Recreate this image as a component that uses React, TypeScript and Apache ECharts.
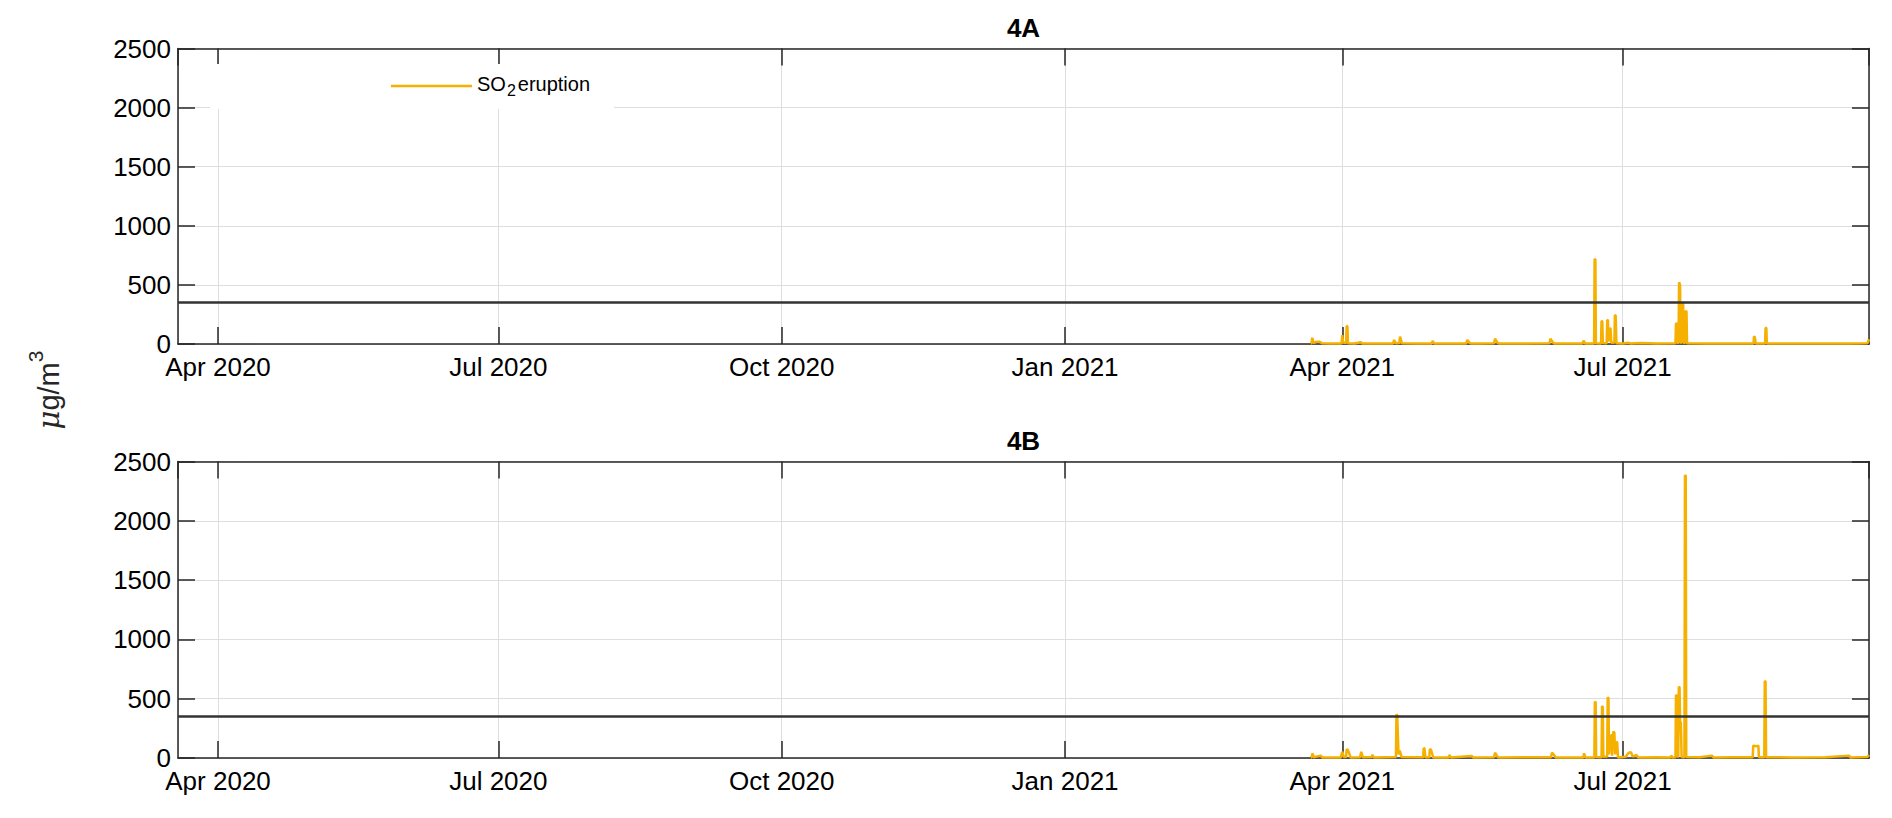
import React, { useEffect, useRef } from 'react';
import * as echarts from 'echarts';

// ---------- data ----------
const X_MIN = '2020-03-19T00:00:00';
const X_MAX = '2021-09-19T00:00:00';
const Y_MIN = 0;
const Y_MAX = 2500;
const Y_STEP = 500;
const LIMIT_VALUE = 350; // threshold line, µg/m³
const MONTHS = ['Jan', 'Feb', 'Mar', 'Apr', 'May', 'Jun', 'Jul', 'Aug', 'Sep', 'Oct', 'Nov', 'Dec'];
const PANEL_TITLES = ['4A', '4B'];
const SERIES_NAME = 'SO2 eruption';

const series4A: [string, number][] = [
  ['2021-03-21 18:00', 4],
  ['2021-03-22 00:00', 6],
  ['2021-03-22 06:00', 53],
  ['2021-03-22 10:00', 50],
  ['2021-03-22 16:00', 8],
  ['2021-03-23 12:00', 18],
  ['2021-03-24 12:00', 20],
  ['2021-03-25 12:00', 6],
  ['2021-03-28 00:00', 4],
  ['2021-03-31 18:00', 5],
  ['2021-04-01 00:00', 75],
  ['2021-04-01 06:00', 12],
  ['2021-04-02 06:00', 8],
  ['2021-04-02 10:00', 152],
  ['2021-04-02 16:00', 150],
  ['2021-04-02 20:00', 6],
  ['2021-04-05 00:00', 4],
  ['2021-04-07 00:00', 15],
  ['2021-04-07 12:00', 4],
  ['2021-04-12 00:00', 5],
  ['2021-04-17 12:00', 5],
  ['2021-04-17 20:00', 34],
  ['2021-04-18 08:00', 6],
  ['2021-04-19 12:00', 8],
  ['2021-04-19 18:00', 62],
  ['2021-04-19 22:00', 60],
  ['2021-04-20 08:00', 7],
  ['2021-04-25 00:00', 5],
  ['2021-04-30 00:00', 4],
  ['2021-04-30 08:00', 25],
  ['2021-04-30 20:00', 5],
  ['2021-05-06 00:00', 5],
  ['2021-05-11 06:00', 5],
  ['2021-05-11 14:00', 34],
  ['2021-05-12 06:00', 12],
  ['2021-05-12 18:00', 4],
  ['2021-05-16 00:00', 5],
  ['2021-05-20 06:00', 6],
  ['2021-05-20 14:00', 45],
  ['2021-05-21 06:00', 15],
  ['2021-05-21 18:00', 5],
  ['2021-05-29 00:00', 4],
  ['2021-06-07 06:00', 6],
  ['2021-06-07 14:00', 45],
  ['2021-06-08 06:00', 18],
  ['2021-06-08 18:00', 5],
  ['2021-06-14 00:00', 4],
  ['2021-06-18 00:00', 5],
  ['2021-06-18 08:00', 28],
  ['2021-06-18 20:00', 5],
  ['2021-06-21 18:00', 4],
  ['2021-06-21 22:00', 720],
  ['2021-06-22 04:00', 715],
  ['2021-06-22 08:00', 6],
  ['2021-06-24 00:00', 5],
  ['2021-06-24 04:00', 195],
  ['2021-06-24 10:00', 192],
  ['2021-06-24 14:00', 8],
  ['2021-06-25 20:00', 6],
  ['2021-06-26 00:00', 203],
  ['2021-06-26 06:00', 200],
  ['2021-06-26 10:00', 20],
  ['2021-06-26 20:00', 133],
  ['2021-06-27 02:00', 130],
  ['2021-06-27 08:00', 10],
  ['2021-06-28 08:00', 12],
  ['2021-06-28 12:00', 246],
  ['2021-06-28 18:00', 240],
  ['2021-06-29 00:00', 6],
  ['2021-07-01 00:00', 4],
  ['2021-07-03 00:00', 10],
  ['2021-07-03 12:00', 5],
  ['2021-07-07 00:00', 8],
  ['2021-07-12 00:00', 5],
  ['2021-07-18 04:00', 6],
  ['2021-07-18 08:00', 175],
  ['2021-07-18 16:00', 172],
  ['2021-07-18 20:00', 10],
  ['2021-07-19 04:00', 8],
  ['2021-07-19 08:00', 523],
  ['2021-07-19 16:00', 500],
  ['2021-07-19 20:00', 12],
  ['2021-07-20 04:00', 10],
  ['2021-07-20 08:00', 345],
  ['2021-07-20 16:00', 340],
  ['2021-07-20 20:00', 10],
  ['2021-07-21 06:00', 8],
  ['2021-07-21 10:00', 280],
  ['2021-07-21 18:00', 275],
  ['2021-07-21 22:00', 6],
  ['2021-07-28 00:00', 4],
  ['2021-08-05 00:00', 5],
  ['2021-08-12 12:00', 5],
  ['2021-08-12 16:00', 62],
  ['2021-08-12 22:00', 60],
  ['2021-08-13 06:00', 5],
  ['2021-08-16 06:00', 5],
  ['2021-08-16 10:00', 138],
  ['2021-08-16 16:00', 135],
  ['2021-08-16 20:00', 5],
  ['2021-08-25 00:00', 4],
  ['2021-09-05 00:00', 5],
  ['2021-09-15 00:00', 4],
  ['2021-09-18 12:00', 6],
  ['2021-09-19 00:00', 40],
];

const series4B: [string, number][] = [
  ['2021-03-21 18:00', 4],
  ['2021-03-22 00:00', 6],
  ['2021-03-22 08:00', 40],
  ['2021-03-22 16:00', 6],
  ['2021-03-25 00:00', 20],
  ['2021-03-25 12:00', 5],
  ['2021-03-31 12:00', 5],
  ['2021-04-01 00:00', 53],
  ['2021-04-01 12:00', 8],
  ['2021-04-02 06:00', 10],
  ['2021-04-02 10:00', 73],
  ['2021-04-02 18:00', 70],
  ['2021-04-03 06:00', 40],
  ['2021-04-03 16:00', 5],
  ['2021-04-06 18:00', 6],
  ['2021-04-07 04:00', 53],
  ['2021-04-07 16:00', 6],
  ['2021-04-10 12:00', 8],
  ['2021-04-10 18:00', 25],
  ['2021-04-11 06:00', 5],
  ['2021-04-18 10:00', 8],
  ['2021-04-18 14:00', 368],
  ['2021-04-18 20:00', 360],
  ['2021-04-19 06:00', 30],
  ['2021-04-19 16:00', 62],
  ['2021-04-20 06:00', 8],
  ['2021-04-27 06:00', 6],
  ['2021-04-27 10:00', 82],
  ['2021-04-27 16:00', 80],
  ['2021-04-28 00:00', 6],
  ['2021-04-29 06:00', 6],
  ['2021-04-29 10:00', 76],
  ['2021-04-29 18:00', 70],
  ['2021-04-30 00:00', 53],
  ['2021-04-30 12:00', 5],
  ['2021-05-05 12:00', 5],
  ['2021-05-05 18:00', 25],
  ['2021-05-06 06:00', 5],
  ['2021-05-13 00:00', 17],
  ['2021-05-13 12:00', 4],
  ['2021-05-20 06:00', 6],
  ['2021-05-20 14:00', 45],
  ['2021-05-21 06:00', 15],
  ['2021-05-21 18:00', 5],
  ['2021-05-30 00:00', 6],
  ['2021-06-07 18:00', 6],
  ['2021-06-08 02:00', 45],
  ['2021-06-08 18:00', 25],
  ['2021-06-09 06:00', 5],
  ['2021-06-18 06:00', 5],
  ['2021-06-18 12:00', 40],
  ['2021-06-18 22:00', 5],
  ['2021-06-21 20:00', 5],
  ['2021-06-22 00:00', 475],
  ['2021-06-22 06:00', 470],
  ['2021-06-22 10:00', 8],
  ['2021-06-24 04:00', 6],
  ['2021-06-24 08:00', 438],
  ['2021-06-24 14:00', 430],
  ['2021-06-24 18:00', 10],
  ['2021-06-26 00:00', 12],
  ['2021-06-26 04:00', 512],
  ['2021-06-26 10:00', 505],
  ['2021-06-26 14:00', 30],
  ['2021-06-27 04:00', 194],
  ['2021-06-27 10:00', 190],
  ['2021-06-27 14:00', 20],
  ['2021-06-28 00:00', 222],
  ['2021-06-28 08:00', 215],
  ['2021-06-28 14:00', 30],
  ['2021-06-29 00:00', 137],
  ['2021-06-29 06:00', 132],
  ['2021-06-29 12:00', 5],
  ['2021-07-02 00:00', 10],
  ['2021-07-03 00:00', 45],
  ['2021-07-03 18:00', 48],
  ['2021-07-04 06:00', 12],
  ['2021-07-05 12:00', 25],
  ['2021-07-06 00:00', 5],
  ['2021-07-12 00:00', 6],
  ['2021-07-16 12:00', 5],
  ['2021-07-16 18:00', 20],
  ['2021-07-17 06:00', 5],
  ['2021-07-18 04:00', 6],
  ['2021-07-18 08:00', 531],
  ['2021-07-18 16:00', 525],
  ['2021-07-18 20:00', 10],
  ['2021-07-19 02:00', 12],
  ['2021-07-19 06:00', 601],
  ['2021-07-19 12:00', 595],
  ['2021-07-19 16:00', 306],
  ['2021-07-19 22:00', 300],
  ['2021-07-20 04:00', 8],
  ['2021-07-21 02:00', 6],
  ['2021-07-21 06:00', 2385],
  ['2021-07-21 12:00', 2380],
  ['2021-07-21 16:00', 8],
  ['2021-07-26 00:00', 6],
  ['2021-07-30 00:00', 20],
  ['2021-07-30 12:00', 5],
  ['2021-08-05 00:00', 6],
  ['2021-08-12 06:00', 6],
  ['2021-08-12 10:00', 104],
  ['2021-08-13 12:00', 100],
  ['2021-08-14 02:00', 104],
  ['2021-08-14 06:00', 6],
  ['2021-08-16 00:00', 6],
  ['2021-08-16 04:00', 649],
  ['2021-08-16 10:00', 645],
  ['2021-08-16 14:00', 6],
  ['2021-08-25 00:00', 5],
  ['2021-09-05 00:00', 6],
  ['2021-09-12 12:00', 20],
  ['2021-09-13 00:00', 5],
  ['2021-09-18 12:00', 8],
  ['2021-09-19 00:00', 25],
];

// ---------- styling ----------
const FONT = '"Liberation Sans", Arial, Helvetica, sans-serif';
const AXIS_COLOR = '#262626';
const GRID_COLOR = '#dedede';
const LINE_COLOR = '#F5B000';
const TICK_FONT = 26;

const GRIDS = [
  { left: 178, top: 48.5, width: 1691, height: 295.5 },
  { left: 178, top: 461.5, width: 1691, height: 296.5 },
];

export default function App() {
  const ref = useRef<HTMLDivElement>(null);

  useEffect(() => {
    if (!ref.current) return;
    const chart = echarts.init(ref.current, undefined, { renderer: 'svg' });
    const xMin = new Date(X_MIN).getTime();
    const xMax = new Date(X_MAX).getTime();

    const fmtDate = (v: number) => {
      const d = new Date(v);
      return `${MONTHS[d.getMonth()]} ${d.getFullYear()}`;
    };

    const axisLine = { show: true, onZero: false, lineStyle: { color: AXIS_COLOR, width: 1.5 } };
    const tickIn = { show: true, inside: true, length: 17, lineStyle: { color: AXIS_COLOR, width: 1.5 } };
    const split = { show: true, lineStyle: { color: GRID_COLOR, width: 1 } };

    const xAxes: any[] = [];
    const yAxes: any[] = [];
    GRIDS.forEach((_, gi) => {
      xAxes.push({
        gridIndex: gi, type: 'time', position: 'bottom', min: xMin, max: xMax, splitNumber: 5,
        axisLine, axisTick: tickIn, splitLine: split,
        axisLabel: {
          show: true, showMinLabel: false, showMaxLabel: false, margin: 11,
          color: '#000', fontFamily: FONT, fontSize: TICK_FONT, fontWeight: 'normal', lineHeight: 24,
          formatter: (v: number) => fmtDate(v),
        },
      });
      xAxes.push({
        gridIndex: gi, type: 'time', position: 'top', min: xMin, max: xMax, splitNumber: 5,
        axisLine, axisTick: tickIn, splitLine: { show: false }, axisLabel: { show: false },
      });
      yAxes.push({
        gridIndex: gi, type: 'value', position: 'left', min: Y_MIN, max: Y_MAX, interval: Y_STEP,
        axisLine, axisTick: tickIn, splitLine: split,
        axisLabel: {
          show: true, margin: 7, color: '#000', fontFamily: FONT, fontSize: TICK_FONT, lineHeight: 20,
          formatter: (v: number) => String(v),
        },
      });
      yAxes.push({
        gridIndex: gi, type: 'value', position: 'right', min: Y_MIN, max: Y_MAX, interval: Y_STEP,
        axisLine, axisTick: tickIn, splitLine: { show: false }, axisLabel: { show: false },
      });
    });

    const mkSeries = (data: [string, number][], gi: number) => ({
      name: SERIES_NAME,
      type: 'line',
      xAxisIndex: gi * 2,
      yAxisIndex: gi * 2,
      data,
      symbol: 'none',
      showSymbol: false,
      color: LINE_COLOR,
      lineStyle: { color: LINE_COLOR, width: 2.5 },
      z: 3,
      markLine: {
        silent: true,
        symbol: 'none',
        label: { show: false },
        lineStyle: { color: '#333333', width: 2.5, type: 'solid' },
        data: [{ yAxis: LIMIT_VALUE }],
        z: 4,
      },
    });

    chart.setOption({
      animation: false,
      backgroundColor: '#ffffff',
      textStyle: { fontFamily: FONT },
      title: PANEL_TITLES.map((t, i) => ({
        text: t,
        left: GRIDS[i].left + GRIDS[i].width / 2,
        top: GRIDS[i].top - 34,
        textAlign: 'center',
        padding: 0,
        textStyle: { fontFamily: FONT, fontSize: 26, fontWeight: 'bold', color: '#000' },
      })),
      legend: {
        data: [SERIES_NAME],
        left: 210,
        top: 64,
        padding: [4, 24, 11, 181],
        backgroundColor: '#ffffff',
        borderWidth: 0,
        itemWidth: 81,
        itemHeight: 14,
        icon: 'path://M0,6 L81,6 L81,8.5 L0,8.5 Z',
        itemStyle: { color: LINE_COLOR },
        formatter: () => '{n|SO}{s|2}{n|eruption}',
        textStyle: {
          color: '#000',
          fontFamily: FONT,
          rich: {
            n: { fontSize: 20, fontFamily: FONT, color: '#000', lineHeight: 24, verticalAlign: 'top' },
            s: { fontSize: 16, fontFamily: FONT, color: '#000', lineHeight: 16, verticalAlign: 'bottom', padding: [14, 2, 0, 1] },
          },
        },
      },
      grid: GRIDS.map((g) => ({ ...g, containLabel: false })),
      xAxis: xAxes,
      yAxis: yAxes,
      graphic: [
        {
          type: 'text',
          x: 44,
          y: 390,
          rotation: Math.PI / 2,
          style: {
            text: '{mu|μ}{t|g/m}{sup|3}',
            align: 'center',
            verticalAlign: 'middle',
            fill: '#262626',
            rich: {
              mu: { fontSize: 29, fontFamily: '"DejaVu Serif", serif', fontStyle: 'italic', fill: '#262626', lineHeight: 38, verticalAlign: 'bottom' },
              t: { fontSize: 29, fontFamily: FONT, fill: '#262626', lineHeight: 38, verticalAlign: 'bottom' },
              sup: { fontSize: 21, fontFamily: FONT, fill: '#262626', lineHeight: 24, verticalAlign: 'top' },
            },
          },
        },
      ],
      series: [mkSeries(series4A, 0), mkSeries(series4B, 1)],
    });

    return () => chart.dispose();
  }, []);

  return (
    <div
      ref={ref}
      style={{ position: 'absolute', left: 0, top: 0, width: 1892, height: 818, background: '#fff' }}
    />
  );
}
